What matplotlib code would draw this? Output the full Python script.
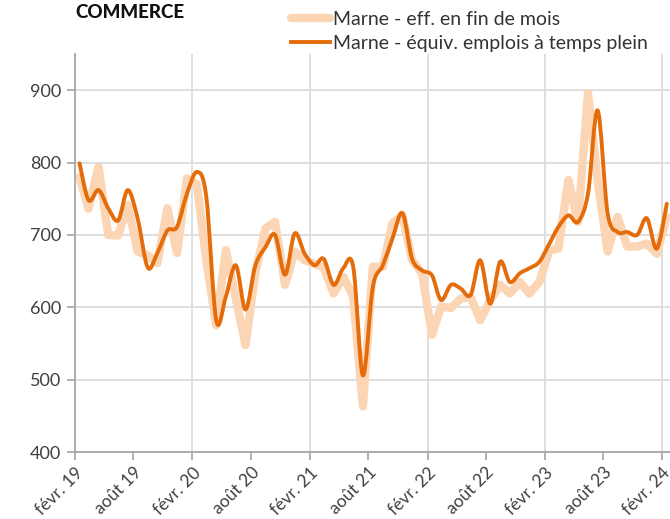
import matplotlib
matplotlib.use("Agg")
import matplotlib.pyplot as plt
import matplotlib.dates as mdates
from matplotlib.ticker import FuncFormatter
from matplotlib.path import Path
from matplotlib.patches import PathPatch
from matplotlib.lines import Line2D
import numpy as np
import pandas as pd

plt.rcParams['font.family'] = ['Lato', 'DejaVu Sans']

# une valeur par mois, de févr. 2019 à févr. 2024 (point placé en milieu de mois)
mois = pd.date_range("2019-02-01", periods=61, freq="MS") + pd.Timedelta(days=14)

eff_fin_mois = [780, 736, 794, 700, 699, 741, 677, 672, 661, 737, 675, 778,
                770, 665, 575, 679, 612, 548, 648, 709, 718, 631, 677, 665,
                660, 655, 619, 642, 615, 463, 656, 656, 716, 727, 665, 647,
                562, 601, 599, 612, 614, 582, 610, 631, 619, 635, 619, 635,
                679, 681, 776, 718, 896, 775, 677, 725, 684, 684, 688, 674,
                725]

equiv_temps_plein = [799, 748, 762, 737, 720, 762, 722, 655, 675, 706, 711, 757,
                     787, 753, 582, 615, 658, 597, 658, 683, 700, 645, 702, 674,
                     658, 667, 631, 654, 656, 506, 628, 658, 695, 730, 667, 651,
                     644, 610, 631, 626, 617, 665, 605, 663, 635, 647, 654, 663,
                     688, 711, 727, 718, 757, 872, 730, 704, 704, 700, 723, 681,
                     743]

noms_series = ["Marne - eff. en fin de mois",
               "Marne - équiv. emplois à temps plein"]
mois_fr = {2: "févr.", 8: "août"}

clair = '#FCD5B5'
fonce = '#E46C0A'
gris = '#A6A6A6'


def fmt_date(x, pos=None):
    d = mdates.num2date(x)
    return f"{mois_fr.get(d.month, '')} {d:%y}"


def courbe_lissee(x, y, k=1 / 6):
    # courbe de Bézier passant par les points (type Catmull-Rom)
    pts = np.column_stack([x, y])
    n = len(pts)
    verts = [pts[0]]
    codes = [Path.MOVETO]
    for i in range(n - 1):
        p0 = pts[max(i - 1, 0)]
        p1 = pts[i]
        p2 = pts[i + 1]
        p3 = pts[min(i + 2, n - 1)]
        verts += [p1 + (p2 - p0) * k, p2 - (p3 - p1) * k, p2]
        codes += [Path.CURVE4] * 3
    return Path(verts, codes)


fig = plt.figure(figsize=(6.7, 5.19), dpi=100)
ax = fig.add_axes([0.112, 0.129, 0.888, 0.767])

ax.plot(mois, eff_fin_mois, color=clair, lw=6,
        solid_joinstyle='round', solid_capstyle='round', zorder=2)
x = mdates.date2num(mois)
ax.add_patch(PathPatch(courbe_lissee(x, equiv_temps_plein), facecolor='none',
                       edgecolor=fonce, lw=2.8, capstyle='round',
                       joinstyle='round', zorder=3))

ax.set_xlim(pd.Timestamp('2019-02-01'), pd.Timestamp('2024-02-25'))
ax.set_ylim(400, 950)
ax.set_yticks(range(400, 901, 100))

ax.xaxis.set_major_locator(mdates.MonthLocator(bymonth=2))
ax.xaxis.set_minor_locator(mdates.MonthLocator(bymonth=8))
ax.xaxis.set_major_formatter(FuncFormatter(fmt_date))
ax.xaxis.set_minor_formatter(FuncFormatter(fmt_date))

ax.grid(axis='y', color='#DCDCDC', lw=1.3)
ax.grid(axis='x', which='major', color='#DCDCDC', lw=1.3)
ax.set_axisbelow(True)

for s in ['top', 'right']:
    ax.spines[s].set_visible(False)
for s in ['left', 'bottom']:
    ax.spines[s].set_color(gris)
    ax.spines[s].set_linewidth(1.3)

ax.tick_params(axis='both', which='both', length=6, width=1.2, color=gris,
               labelcolor='#404040')
ax.tick_params(axis='y', labelsize=13, pad=4)
ax.tick_params(axis='x', which='both', labelsize=12.5, pad=3)
for lbl in ax.get_xticklabels(which='both'):
    lbl.set_rotation(45)
    lbl.set_ha('right')
    lbl.set_va('top')
    lbl.set_rotation_mode('anchor')

fig.text(0.112, 0.992, "COMMERCE", fontsize=13.5, fontweight='black',
         color='#111111', va='top', ha='left')

handles = [Line2D([], [], color=clair, lw=6, solid_capstyle='round'),
           Line2D([], [], color=fonce, lw=2.8)]
fig.legend(handles, noms_series, loc='upper left', bbox_to_anchor=(0.432, 0.982),
           frameon=False, fontsize=14, handlelength=2.0, handletextpad=0.15,
           labelspacing=0.35, borderaxespad=0, borderpad=0.1,
           labelcolor='#333333')

fig.savefig("out.png", dpi=100)
